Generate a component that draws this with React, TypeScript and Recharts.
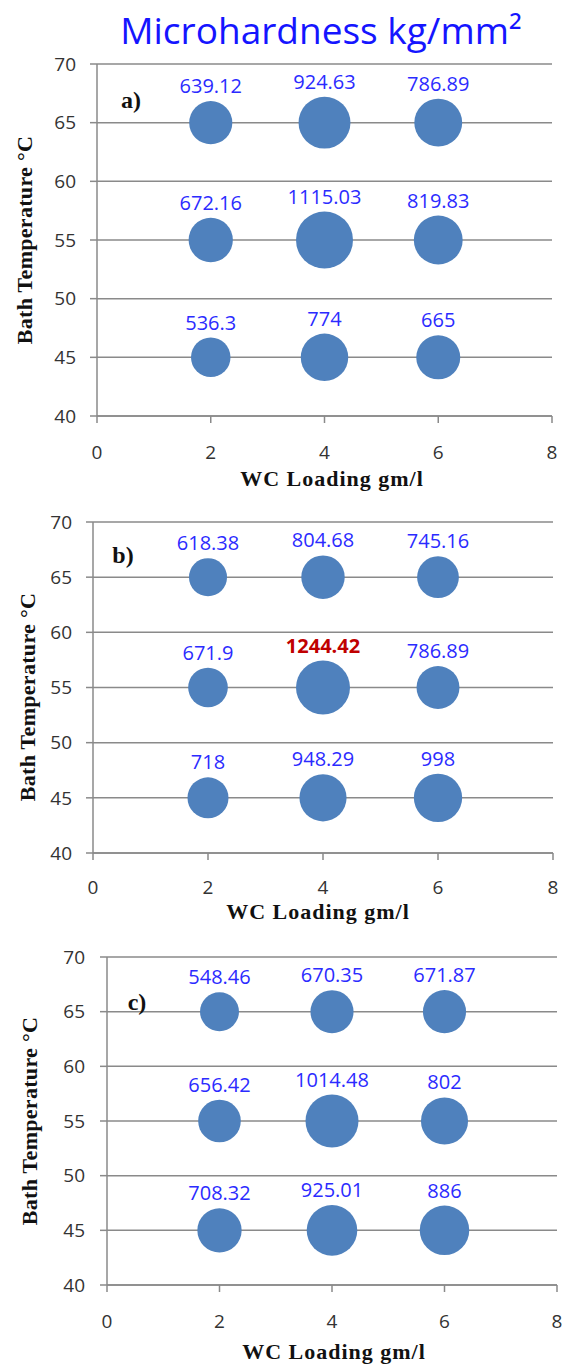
import { ScatterChart, Scatter, XAxis, YAxis, ZAxis, CartesianGrid } from 'recharts';

// WC loading (gm/l) on x, bath temperature (°C) on y, microhardness as bubble size
const wcLoading = [2, 4, 6];
const bathTemps = [65, 55, 45];

// one row per bath temperature, one column per WC loading
const hardnessA = [
  [639.12, 924.63, 786.89],
  [672.16, 1115.03, 819.83],
  [536.3, 774, 665],
];
const hardnessB = [
  [618.38, 804.68, 745.16],
  [671.9, 1244.42, 786.89],
  [718, 948.29, 998],
];
const hardnessC = [
  [548.46, 670.35, 671.87],
  [656.42, 1014.48, 802],
  [708.32, 925.01, 886],
];

const xTicks = [0, 2, 4, 6, 8];
const yTicks = [40, 45, 50, 55, 60, 65, 70];
const panelNames = ['a)', 'b)', 'c)'];

const toPoints = (rows: number[][]) =>
  rows.flatMap((row, i) => row.map((v, j) => ({ x: wcLoading[j], y: bathTemps[i], z: v })));

// the overall highest value is shown in red
const peak = Math.max(...[hardnessA, hardnessB, hardnessC].flat(2));

const AXIS_GREY = '#8a8a8a';
const TICK_FONT = { fontFamily: 'Open Sans', fontSize: 19, fill: '#333' };
const TITLE_FONT = "'Liberation Serif', 'Times New Roman', serif";

// layout of each panel on the page (pixels)
const layout = [
  { top: 0, height: 490, plot: { top: 64, bottom: 416, left: 97, right: 552 }, diameter: 57, xMargin: 23, yMargin: 14, name: [131, 100], xTitle: [332, 479], yTitle: [25, 240] },
  { top: 490, height: 430, plot: { top: 522, bottom: 853, left: 93, right: 553 }, diameter: 54, xMargin: 21, yMargin: 14, name: [123, 555], xTitle: [318, 912], yTitle: [28, 697] },
  { top: 920, height: 445, plot: { top: 957, bottom: 1285, left: 107, right: 557 }, diameter: 53, xMargin: 23, yMargin: 15, name: [137, 1002], xTitle: [334, 1352], yTitle: [30, 1121] },
];

function Bubble(props: any) {
  const { cx, cy, payload } = props;
  const r = props.width ? props.width / 2 : Math.sqrt((props.size || 0) / Math.PI);
  const isPeak = payload.z === peak;
  return (
    <g>
      <circle cx={cx} cy={cy} r={r} fill="#4f81bd" />
      <text
        x={cx}
        y={cy - r - 8}
        textAnchor="middle"
        fontFamily="Open Sans"
        fontSize={20}
        fontWeight={isPeak ? 'bold' : 'normal'}
        fill={isPeak ? '#c00000' : '#2b2bff'}
      >
        {String(payload.z)}
      </text>
    </g>
  );
}

function Panel({ rows, idx }: { rows: number[][]; idx: number }) {
  const L = layout[idx];
  const yAxisWidth = 60;
  const xAxisHeight = 40;
  const margin = {
    top: L.plot.top - L.top,
    bottom: L.top + L.height - L.plot.bottom - xAxisHeight,
    left: L.plot.left - yAxisWidth,
    right: 574 - L.plot.right,
  };
  const r = L.diameter / 2;
  return (
    <div style={{ position: 'absolute', left: 0, top: L.top, width: 574, height: L.height }}>
      <ScatterChart width={574} height={L.height} margin={margin}>
        <CartesianGrid vertical={false} stroke={AXIS_GREY} strokeWidth={1.5} />
        <XAxis
          type="number"
          dataKey="x"
          domain={[0, 8]}
          ticks={xTicks}
          interval={0}
          height={xAxisHeight}
          stroke={AXIS_GREY}
          strokeWidth={1.5}
          tickSize={7}
          tickMargin={L.xMargin}
          tick={TICK_FONT}
        />
        <YAxis
          type="number"
          dataKey="y"
          domain={[40, 70]}
          ticks={yTicks}
          interval={0}
          width={yAxisWidth}
          stroke={AXIS_GREY}
          strokeWidth={1.5}
          tickSize={7}
          tickMargin={L.yMargin}
          tick={TICK_FONT}
        />
        <ZAxis type="number" dataKey="z" domain={[0, 'dataMax']} range={[0, Math.PI * r * r]} />
        <Scatter data={toPoints(rows)} shape={<Bubble />} isAnimationActive={false} />
      </ScatterChart>
    </div>
  );
}

const centered = (x: number, y: number, extra: any = {}) => ({
  position: 'absolute' as const,
  left: x,
  top: y,
  transform: 'translate(-50%, -50%)' + (extra.rotate ? ' rotate(-90deg)' : ''),
  whiteSpace: 'nowrap' as const,
  lineHeight: 1,
});

export default function App() {
  const sets = [hardnessA, hardnessB, hardnessC];
  return (
    <div style={{ position: 'absolute', left: 0, top: 0, width: 574, height: 1365, background: '#fff', overflow: 'hidden' }}>
      <div style={{ ...centered(321, 29), fontFamily: 'Open Sans', fontSize: 37, fontWeight: 500, color: '#1515ff' }}>
        Microhardness kg/mm²
      </div>
      {sets.map((rows, i) => (
        <Panel key={i} rows={rows} idx={i} />
      ))}
      {layout.map((L, i) => (
        <div key={'t' + i}>
          <div style={{ ...centered(L.name[0], L.name[1]), fontFamily: TITLE_FONT, fontWeight: 'bold', fontSize: 24, color: '#111' }}>
            {panelNames[i]}
          </div>
          <div style={{ ...centered(L.xTitle[0], L.xTitle[1]), fontFamily: TITLE_FONT, fontWeight: 'bold', fontSize: 22, letterSpacing: 1, color: '#111' }}>
            WC Loading gm/l
          </div>
          <div style={{ ...centered(L.yTitle[0], L.yTitle[1], { rotate: true }), fontFamily: TITLE_FONT, fontWeight: 'bold', fontSize: 22, letterSpacing: 0.3, color: '#111' }}>
            Bath Temperature °C
          </div>
        </div>
      ))}
    </div>
  );
}
